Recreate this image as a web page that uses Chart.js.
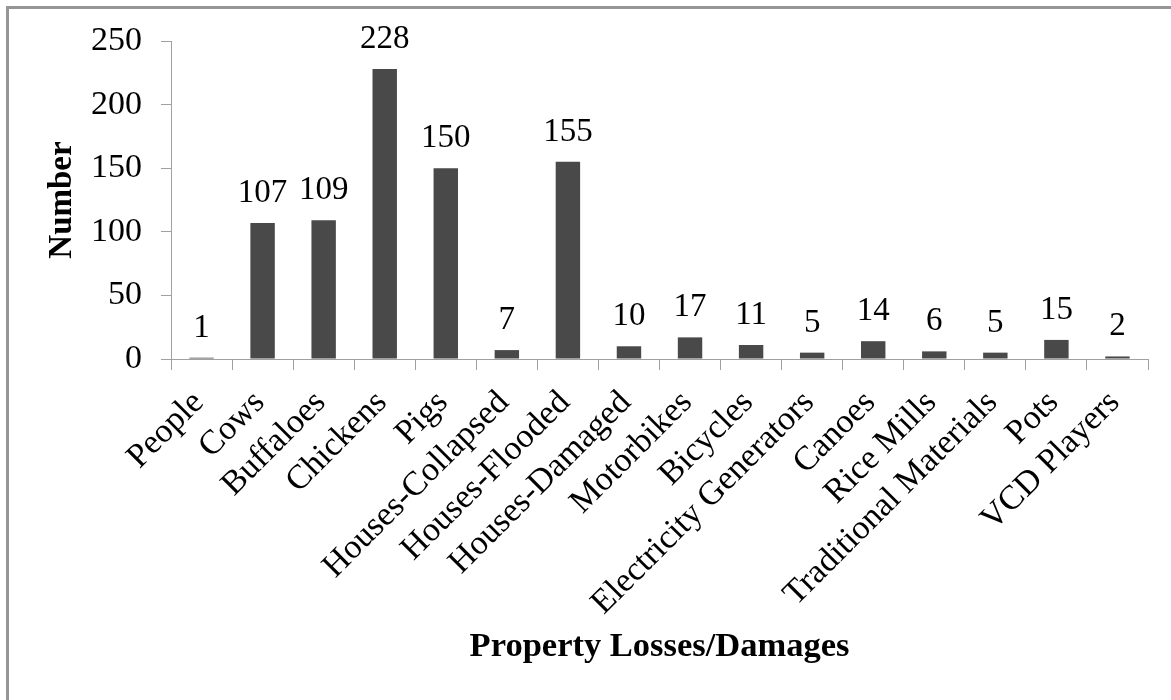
<!DOCTYPE html>
<html><head><meta charset="utf-8">
<script src="https://cdn.jsdelivr.net/npm/chart.js@4.4.1/dist/chart.umd.min.js"></script>
<style>
html,body{margin:0;padding:0;background:#fff;width:1171px;height:700px;overflow:hidden}
#frame{position:absolute;left:6px;top:6px;width:1200px;height:720px;border-left:3px solid #969696;border-top:3px solid #969696;box-sizing:border-box}
#wrap{position:absolute;left:0;top:0;width:1171px;height:700px}
</style></head><body>
<div id="frame"></div>
<div id="wrap"><canvas id="c" width="1171" height="700"></canvas></div>
<script>
const categories = ["People","Cows","Buffaloes","Chickens","Pigs","Houses-Collapsed","Houses-Flooded","Houses-Damaged","Motorbikes","Bicycles","Electricity Generators","Canoes","Rice Mills","Traditional Materials","Pots","VCD Players"];
const values = [1,107,109,228,150,7,155,10,17,11,5,14,6,5,15,2];
const yMin = 0, yMax = 250, yStep = 50;
const xTitle = "Property Losses/Damages";
const yTitle = "Number";

const SERIF = "'Liberation Serif','Times New Roman',serif";
const AXIS = '#a0a0a0';

const valueLabels = {
  id: 'valueLabels',
  afterDatasetsDraw(chart) {
    const ctx = chart.ctx;
    const meta = chart.getDatasetMeta(0);
    ctx.save();
    ctx.font = "33px " + SERIF;
    ctx.fillStyle = '#000';
    ctx.textAlign = 'center';
    ctx.textBaseline = 'alphabetic';
    meta.data.forEach((bar, i) => {
      ctx.fillText(String(values[i]), bar.x, bar.y - 21);
    });
    ctx.restore();
  }
};

new Chart(document.getElementById('c'), {
  type: 'bar',
  data: {
    labels: categories,
    datasets: [{
      data: values,
      backgroundColor: '#494949',
      borderWidth: 0,
      barPercentage: 0.4,
      categoryPercentage: 1.0
    }]
  },
  options: {
    responsive: false,
    animation: false,
    devicePixelRatio: 1,
    layout: { padding: { left: 43, top: 41, right: 23, bottom: 32 } },
    plugins: { legend: { display: false }, tooltip: { enabled: false } },
    scales: {
      x: {
        grid: { display: true, drawOnChartArea: false, color: AXIS, tickLength: 11, offset: true },
        border: { display: true, color: AXIS, width: 1 },
        ticks: {
          autoSkip: false, maxRotation: 45, minRotation: 45,
          padding: 13, labelOffset: -3,
          color: '#000', font: { family: SERIF, size: 34 }
        },
        title: { display: true, text: xTitle, color: '#000', padding: { top: 0, bottom: 0 },
                 font: { family: SERIF, size: 34.5, weight: 'bold' } },
        afterFit(scale) { scale.height = 309; }
      },
      y: {
        min: yMin, max: yMax,
        grid: { display: true, drawOnChartArea: false, color: AXIS, tickLength: 10 },
        border: { display: true, color: AXIS, width: 1 },
        ticks: { stepSize: yStep, padding: 19, color: '#000', font: { family: SERIF, size: 34 } },
        title: { display: true, text: yTitle, color: '#000', padding: { top: 0, bottom: 0 },
                 font: { family: SERIF, size: 33, weight: 'bold' } },
        afterFit(scale) { scale.width = 128; }
      }
    }
  },
  plugins: [valueLabels]
});
</script>
</body></html>
